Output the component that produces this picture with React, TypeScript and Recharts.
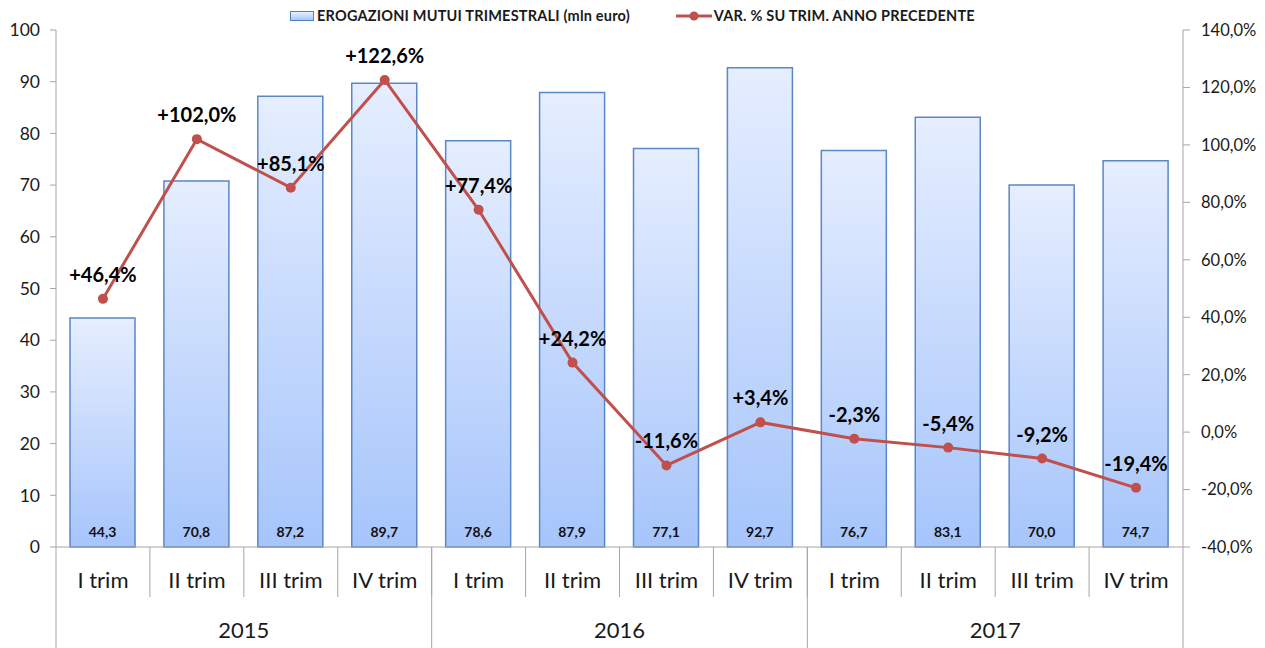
import React from 'react';
import { ComposedChart, Bar, Line, XAxis, YAxis, LabelList } from 'recharts';

document.body.style.margin = '0';

const quarters = [
  'I trim', 'II trim', 'III trim', 'IV trim',
  'I trim', 'II trim', 'III trim', 'IV trim',
  'I trim', 'II trim', 'III trim', 'IV trim',
];
const years = [
  '2015', '2015', '2015', '2015',
  '2016', '2016', '2016', '2016',
  '2017', '2017', '2017', '2017',
];
const erogazioni = [44.3, 70.8, 87.2, 89.7, 78.6, 87.9, 77.1, 92.7, 76.7, 83.1, 70.0, 74.7];
const variazione = [46.4, 102.0, 85.1, 122.6, 77.4, 24.2, -11.6, 3.4, -2.3, -5.4, -9.2, -19.4];
const leftTicks = [0, 10, 20, 30, 40, 50, 60, 70, 80, 90, 100];
const rightTicks = [-40, -20, 0, 20, 40, 60, 80, 100, 120, 140];

const data = quarters.map((q, i) => ({
  key: i,
  quarter: q,
  year: years[i],
  erogazioni: erogazioni[i],
  variazione: variazione[i],
}));

const W = 1265;
const H = 648;
const LEFT_W = 56;
const RIGHT_W = 82;
const STEP = (W - LEFT_W - RIGHT_W) / quarters.length;
const AXIS = '#a6a6a6';
const FONT = 'Lato, "Open Sans", sans-serif';

const comma = (v: number) => v.toFixed(1).replace('.', ',');

const QuarterTick = ({ x, y, payload, index }: any) => {
  const i = index ?? payload.index;
  return (
    <g>
      <text x={x} y={y + 41} textAnchor="middle" fontSize={22} fill="#1a1a1a" fontFamily={FONT}>
        {quarters[payload.value] ?? quarters[i]}
      </text>
      {i < quarters.length - 1 && (
        <line x1={x + STEP / 2} x2={x + STEP / 2} y1={y} y2={y + 50} stroke={AXIS} strokeWidth={1} />
      )}
    </g>
  );
};

const YearTick = ({ x, y, payload, index }: any) => {
  const i = index ?? payload.index;
  const lines: number[] = [];
  if (i === 0) lines.push(x - STEP / 2);
  if (i % 4 === 3) lines.push(x + STEP / 2);
  return (
    <g>
      {i % 4 === 1 && (
        <text x={x + STEP / 2} y={y + 41} textAnchor="middle" fontSize={22} fill="#1a1a1a" fontFamily={FONT}>
          {years[i]}
        </text>
      )}
      {lines.map((lx) => (
        <line key={lx} x1={lx} x2={lx} y1={y - 50} y2={y + 51} stroke={AXIS} strokeWidth={1} />
      ))}
    </g>
  );
};

const BarValue = ({ x, y, width, height, value }: any) => (
  <text
    x={x + width / 2}
    y={y + height - 10}
    textAnchor="middle"
    fontSize={14}
    fontWeight={700}
    fill="#111"
    fontFamily={FONT}
  >
    {comma(value)}
  </text>
);

const LineValue = ({ x, y, value }: any) => (
  <text x={x} y={y - 17} textAnchor="middle" fontSize={20} fontWeight={700} fill="#000" fontFamily={FONT}>
    {(value > 0 ? '+' : '') + comma(value) + '%'}
  </text>
);

const LegendBar = () => (
  <div
    style={{
      position: 'absolute',
      top: 7,
      left: 0,
      width: W,
      display: 'flex',
      justifyContent: 'center',
      alignItems: 'center',
      fontFamily: FONT,
      fontSize: 14.5,
      fontWeight: 700,
      color: '#1a1a1a',
      letterSpacing: 0.2,
    }}
  >
    <span
      style={{
        display: 'inline-block',
        width: 22,
        height: 8,
        border: '1px solid #4f81bd',
        background: 'linear-gradient(#e6eeff, #a9c7fb)',
        marginRight: 3,
      }}
    />
    <span>EROGAZIONI MUTUI TRIMESTRALI (mln euro)</span>
    <span style={{ display: 'inline-block', width: 46 }} />
    <svg width={36} height={12} style={{ marginRight: 2 }}>
      <line x1={0} x2={36} y1={6} y2={6} stroke="#c0504d" strokeWidth={3} />
      <circle cx={18} cy={6} r={4.5} fill="#c0504d" />
    </svg>
    <span>VAR. % SU TRIM. ANNO PRECEDENTE</span>
  </div>
);

export default function App() {
  return (
    <div style={{ position: 'relative', width: W, height: H, background: '#fff' }}>
      <ComposedChart width={W} height={H} data={data} margin={{ top: 30, right: 0, bottom: 0, left: 0 }}>
        <defs>
          <linearGradient id="barGrad" x1="0" y1="0" x2="0" y2="1">
            <stop offset="0%" stopColor="#e6eeff" />
            <stop offset="100%" stopColor="#a6c5fb" />
          </linearGradient>
        </defs>
        <XAxis
          xAxisId="q"
          dataKey="key"
          type="category"
          height={50}
          interval={0}
          tickSize={0}
          tickMargin={0}
          tickLine={false}
          axisLine={{ stroke: AXIS }}
          tick={<QuarterTick />}
        />
        <XAxis
          xAxisId="y"
          dataKey="key"
          type="category"
          height={51}
          interval={0}
          tickSize={0}
          tickMargin={0}
          tickLine={false}
          axisLine={false}
          tick={<YearTick />}
        />
        <YAxis
          yAxisId="left"
          orientation="left"
          width={LEFT_W}
          domain={[0, 100]}
          ticks={leftTicks}
          interval={0}
          tickSize={6}
          tickMargin={10}
          axisLine={{ stroke: AXIS }}
          tickLine={{ stroke: AXIS }}
          tick={{ fontSize: 17.5, fill: '#1a1a1a', fontFamily: FONT }}
        />
        <YAxis
          yAxisId="right"
          orientation="right"
          width={RIGHT_W}
          domain={[-40, 140]}
          ticks={rightTicks}
          interval={0}
          tickSize={7}
          tickMargin={11}
          axisLine={{ stroke: AXIS }}
          tickLine={{ stroke: AXIS }}
          tickFormatter={(v: number) => comma(v) + '%'}
          tick={{ fontSize: 16.5, fill: '#1a1a1a', fontFamily: FONT }}
        />
        <Bar
          xAxisId="q"
          yAxisId="left"
          dataKey="erogazioni"
          barSize={65}
          fill="url(#barGrad)"
          stroke="#5a87c6"
          strokeWidth={1.5}
          isAnimationActive={false}
        >
          <LabelList dataKey="erogazioni" content={<BarValue />} />
        </Bar>
        <Line
          xAxisId="q"
          yAxisId="right"
          dataKey="variazione"
          stroke="#c0504d"
          strokeWidth={3}
          dot={{ r: 5, fill: '#c0504d', stroke: '#c0504d', strokeWidth: 0 }}
          activeDot={false}
          isAnimationActive={false}
        >
          <LabelList dataKey="variazione" content={<LineValue />} />
        </Line>
      </ComposedChart>
      <LegendBar />
    </div>
  );
}
